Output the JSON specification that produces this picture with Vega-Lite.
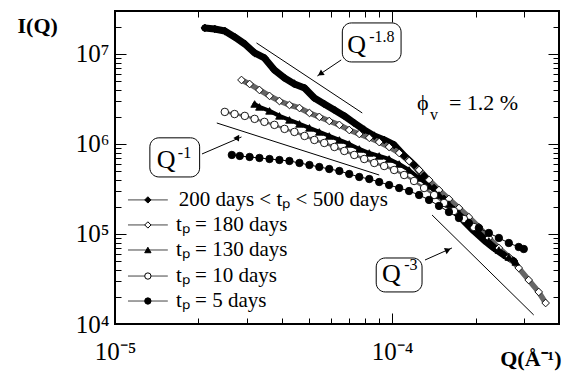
{
  "$schema": "https://vega.github.io/schema/vega-lite/v6.json",
  "width": 444,
  "height": 313,
  "autosize": {"type": "none"},
  "padding": {"left": 115, "top": 11, "right": 10, "bottom": 47},
  "background": "white",
  "config": {
    "view": {"stroke": "black", "strokeWidth": 2},
    "font": "Liberation Serif"
  },
  "datasets": {
    "series": [
      {"s": "A", "Q": 2.11e-5, "I": 1.945e7}, {"s": "A", "Q": 2.29e-5, "I": 1.895e7}, {"s": "A", "Q": 2.49e-5, "I": 1.80e7},
      {"s": "A", "Q": 2.70e-5, "I": 1.545e7}, {"s": "A", "Q": 2.94e-5, "I": 1.29e7}, {"s": "A", "Q": 3.19e-5, "I": 1.026e7},
      {"s": "A", "Q": 3.46e-5, "I": 9.03e6}, {"s": "A", "Q": 3.76e-5, "I": 6.64e6}, {"s": "A", "Q": 4.09e-5, "I": 5.41e6},
      {"s": "A", "Q": 4.44e-5, "I": 4.64e6}, {"s": "A", "Q": 4.83e-5, "I": 4.19e6}, {"s": "A", "Q": 5.24e-5, "I": 3.24e6},
      {"s": "A", "Q": 5.69e-5, "I": 2.78e6}, {"s": "A", "Q": 6.19e-5, "I": 2.39e6}, {"s": "A", "Q": 6.72e-5, "I": 2.05e6},
      {"s": "A", "Q": 7.30e-5, "I": 1.71e6}, {"s": "A", "Q": 7.93e-5, "I": 1.43e6}, {"s": "A", "Q": 8.62e-5, "I": 1.227e6},
      {"s": "A", "Q": 9.36e-5, "I": 1.108e6}, {"s": "A", "Q": 1.017e-4, "I": 9.74e5}, {"s": "A", "Q": 1.105e-4, "I": 7.36e5},
      {"s": "A", "Q": 1.200e-4, "I": 5.84e5}, {"s": "A", "Q": 1.304e-4, "I": 4.41e5}, {"s": "A", "Q": 1.417e-4, "I": 3.24e5},
      {"s": "A", "Q": 1.539e-4, "I": 2.45e5}, {"s": "A", "Q": 1.671e-4, "I": 1.85e5}, {"s": "A", "Q": 1.816e-4, "I": 1.394e5},
      {"s": "A", "Q": 1.972e-4, "I": 1.08e5}, {"s": "A", "Q": 2.143e-4, "I": 8.58e4}, {"s": "A", "Q": 2.328e-4, "I": 6.99e4},
      {"s": "A", "Q": 2.529e-4, "I": 5.84e4}, {"s": "A", "Q": 2.747e-4, "I": 5.01e4},
      {"s": "B", "Q": 2.86e-5, "I": 5.14e6}, {"s": "B", "Q": 3.06e-5, "I": 4.64e6}, {"s": "B", "Q": 3.32e-5, "I": 3.98e6},
      {"s": "B", "Q": 3.61e-5, "I": 3.42e6}, {"s": "B", "Q": 3.92e-5, "I": 3.00e6}, {"s": "B", "Q": 4.26e-5, "I": 2.71e6},
      {"s": "B", "Q": 4.63e-5, "I": 2.51e6}, {"s": "B", "Q": 5.03e-5, "I": 2.21e6}, {"s": "B", "Q": 5.46e-5, "I": 2.00e6},
      {"s": "B", "Q": 5.93e-5, "I": 1.80e6}, {"s": "B", "Q": 6.45e-5, "I": 1.63e6}, {"s": "B", "Q": 7.00e-5, "I": 1.43e6},
      {"s": "B", "Q": 7.61e-5, "I": 1.29e6}, {"s": "B", "Q": 8.27e-5, "I": 1.17e6}, {"s": "B", "Q": 8.98e-5, "I": 1.05e6},
      {"s": "B", "Q": 9.75e-5, "I": 9.26e5}, {"s": "B", "Q": 1.060e-4, "I": 7.94e5}, {"s": "B", "Q": 1.151e-4, "I": 6.47e5},
      {"s": "B", "Q": 1.251e-4, "I": 5.14e5}, {"s": "B", "Q": 1.359e-4, "I": 3.98e5}, {"s": "B", "Q": 1.476e-4, "I": 3.08e5},
      {"s": "B", "Q": 1.603e-4, "I": 2.45e5}, {"s": "B", "Q": 1.742e-4, "I": 1.945e5}, {"s": "B", "Q": 1.892e-4, "I": 1.54e5},
      {"s": "B", "Q": 2.055e-4, "I": 1.196e5}, {"s": "B", "Q": 2.233e-4, "I": 9.03e4}, {"s": "B", "Q": 2.427e-4, "I": 6.99e4},
      {"s": "B", "Q": 2.636e-4, "I": 5.55e4}, {"s": "B", "Q": 2.863e-4, "I": 4.19e4}, {"s": "B", "Q": 3.110e-4, "I": 3.08e4},
      {"s": "B", "Q": 3.380e-4, "I": 2.27e4}, {"s": "B", "Q": 3.58e-4, "I": 1.71e4},
      {"s": "C", "Q": 3.19e-5, "I": 2.78e6}, {"s": "C", "Q": 3.32e-5, "I": 2.58e6}, {"s": "C", "Q": 3.61e-5, "I": 2.33e6},
      {"s": "C", "Q": 3.92e-5, "I": 2.05e6}, {"s": "C", "Q": 4.26e-5, "I": 1.85e6}, {"s": "C", "Q": 4.63e-5, "I": 1.67e6},
      {"s": "C", "Q": 5.03e-5, "I": 1.51e6}, {"s": "C", "Q": 5.46e-5, "I": 1.36e6}, {"s": "C", "Q": 5.93e-5, "I": 1.227e6},
      {"s": "C", "Q": 6.45e-5, "I": 1.108e6}, {"s": "C", "Q": 7.00e-5, "I": 1.0e6}, {"s": "C", "Q": 7.61e-5, "I": 8.80e5},
      {"s": "C", "Q": 8.27e-5, "I": 7.94e5}, {"s": "C", "Q": 8.98e-5, "I": 7.36e5}, {"s": "C", "Q": 9.75e-5, "I": 6.81e5},
      {"s": "C", "Q": 1.060e-4, "I": 5.99e5}, {"s": "C", "Q": 1.151e-4, "I": 5.14e5}, {"s": "C", "Q": 1.251e-4, "I": 4.19e5},
      {"s": "C", "Q": 1.359e-4, "I": 3.42e5}, {"s": "C", "Q": 1.476e-4, "I": 2.71e5}, {"s": "C", "Q": 1.603e-4, "I": 2.15e5},
      {"s": "C", "Q": 1.742e-4, "I": 1.71e5}, {"s": "C", "Q": 1.892e-4, "I": 1.36e5}, {"s": "C", "Q": 2.055e-4, "I": 1.05e5},
      {"s": "C", "Q": 2.233e-4, "I": 8.36e4}, {"s": "C", "Q": 2.427e-4, "I": 6.64e4}, {"s": "C", "Q": 2.636e-4, "I": 5.55e4},
      {"s": "C", "Q": 2.793e-4, "I": 4.89e4},
      {"s": "D", "Q": 2.49e-5, "I": 2.27e6}, {"s": "D", "Q": 2.70e-5, "I": 2.15e6}, {"s": "D", "Q": 2.94e-5, "I": 2.05e6},
      {"s": "D", "Q": 3.19e-5, "I": 1.90e6}, {"s": "D", "Q": 3.46e-5, "I": 1.76e6}, {"s": "D", "Q": 3.76e-5, "I": 1.63e6},
      {"s": "D", "Q": 4.09e-5, "I": 1.47e6}, {"s": "D", "Q": 4.44e-5, "I": 1.36e6}, {"s": "D", "Q": 4.83e-5, "I": 1.227e6},
      {"s": "D", "Q": 5.24e-5, "I": 1.108e6}, {"s": "D", "Q": 5.69e-5, "I": 1.026e6}, {"s": "D", "Q": 6.19e-5, "I": 9.26e5},
      {"s": "D", "Q": 6.72e-5, "I": 8.36e5}, {"s": "D", "Q": 7.30e-5, "I": 7.55e5}, {"s": "D", "Q": 7.93e-5, "I": 6.81e5},
      {"s": "D", "Q": 8.62e-5, "I": 6.15e5}, {"s": "D", "Q": 9.36e-5, "I": 5.69e5}, {"s": "D", "Q": 1.017e-4, "I": 5.14e5},
      {"s": "D", "Q": 1.105e-4, "I": 4.52e5}, {"s": "D", "Q": 1.200e-4, "I": 3.88e5}, {"s": "D", "Q": 1.304e-4, "I": 3.24e5},
      {"s": "D", "Q": 1.417e-4, "I": 2.71e5}, {"s": "D", "Q": 1.539e-4, "I": 2.21e5}, {"s": "D", "Q": 1.671e-4, "I": 1.80e5},
      {"s": "D", "Q": 1.816e-4, "I": 1.468e5}, {"s": "D", "Q": 1.972e-4, "I": 1.196e5},
      {"s": "E", "Q": 2.64e-5, "I": 7.55e5}, {"s": "E", "Q": 2.82e-5, "I": 7.36e5}, {"s": "E", "Q": 3.06e-5, "I": 7.17e5},
      {"s": "E", "Q": 3.32e-5, "I": 6.99e5}, {"s": "E", "Q": 3.61e-5, "I": 6.81e5}, {"s": "E", "Q": 3.92e-5, "I": 6.64e5},
      {"s": "E", "Q": 4.26e-5, "I": 6.47e5}, {"s": "E", "Q": 4.63e-5, "I": 6.15e5}, {"s": "E", "Q": 5.03e-5, "I": 5.84e5},
      {"s": "E", "Q": 5.46e-5, "I": 5.55e5}, {"s": "E", "Q": 5.93e-5, "I": 5.27e5}, {"s": "E", "Q": 6.45e-5, "I": 5.01e5},
      {"s": "E", "Q": 7.00e-5, "I": 4.64e5}, {"s": "E", "Q": 7.61e-5, "I": 4.30e5}, {"s": "E", "Q": 8.27e-5, "I": 4.08e5},
      {"s": "E", "Q": 8.98e-5, "I": 3.78e5}, {"s": "E", "Q": 9.75e-5, "I": 3.50e5}, {"s": "E", "Q": 1.060e-4, "I": 3.24e5},
      {"s": "E", "Q": 1.151e-4, "I": 3.00e5}, {"s": "E", "Q": 1.251e-4, "I": 2.71e5}, {"s": "E", "Q": 1.359e-4, "I": 2.39e5},
      {"s": "E", "Q": 1.476e-4, "I": 2.05e5}, {"s": "E", "Q": 1.603e-4, "I": 1.755e5}, {"s": "E", "Q": 1.742e-4, "I": 1.505e5},
      {"s": "E", "Q": 1.892e-4, "I": 1.32e5}, {"s": "E", "Q": 2.055e-4, "I": 1.166e5}, {"s": "E", "Q": 2.233e-4, "I": 1.026e5},
      {"s": "E", "Q": 2.427e-4, "I": 9.03e4}, {"s": "E", "Q": 2.636e-4, "I": 7.94e4}, {"s": "E", "Q": 2.863e-4, "I": 7.17e4},
      {"s": "E", "Q": 2.985e-4, "I": 6.81e4}
    ],
    "legend": [
      {"s": "A", "Qa": 1.114e-5, "Qb": 1.551e-5, "Qm": 1.314e-5, "Qt": 1.70e-5, "I": 2.39e5, "label": "200 days < tₚ < 500 days"},
      {"s": "B", "Qa": 1.114e-5, "Qb": 1.551e-5, "Qm": 1.314e-5, "Qt": 1.66e-5, "I": 1.26e5, "label": "tₚ = 180 days"},
      {"s": "C", "Qa": 1.114e-5, "Qb": 1.551e-5, "Qm": 1.314e-5, "Qt": 1.66e-5, "I": 6.64e4, "label": "tₚ = 130 days"},
      {"s": "D", "Qa": 1.114e-5, "Qb": 1.551e-5, "Qm": 1.314e-5, "Qt": 1.66e-5, "I": 3.41e4, "label": "tₚ = 10 days"},
      {"s": "E", "Qa": 1.114e-5, "Qb": 1.551e-5, "Qm": 1.314e-5, "Qt": 1.66e-5, "I": 1.80e4, "label": "tₚ = 5 days"}
    ],
    "refs": [
      {"r": "a", "Q": 3.24e-5, "I": 1.325e7}, {"r": "a", "Q": 7.80e-5, "I": 2.21e6},
      {"r": "b", "Q": 2.33e-5, "I": 1.71e6}, {"r": "b", "Q": 8.98e-5, "I": 4.52e5},
      {"r": "c", "Q": 1.393e-4, "I": 1.626e5}, {"r": "c", "Q": 3.242e-4, "I": 1.26e4}
    ],
    "arrows": [
      {"r": "a", "Q": 6.55e-5, "I": 8.58e6}, {"r": "a", "Q": 5.37e-5, "I": 5.69e6},
      {"r": "b", "Q": 2.06e-5, "I": 7.74e5}, {"r": "b", "Q": 2.86e-5, "I": 1.196e6},
      {"r": "c", "Q": 1.314e-4, "I": 5.14e4}, {"r": "c", "Q": 1.644e-4, "I": 6.99e4}
    ],
    "heads": [
      {"r": "a", "Q": 5.51e-5, "I": 6.0e6},
      {"r": "b", "Q": 2.77e-5, "I": 1.137e6},
      {"r": "c", "Q": 1.590e-4, "I": 6.64e4}
    ],
    "boxes": [
      {"Q": 6.61e-5, "Q2": 1.077e-4, "I": 2.21e7, "I2": 8.15e6},
      {"Q": 1.336e-5, "Q2": 2.02e-5, "I": 1.17e6, "I2": 4.30e5},
      {"Q": 8.76e-5, "Q2": 1.282e-4, "I": 5.41e4, "I2": 2.27e4}
    ],
    "bigtext": [
      {"t": "Q", "Q": 6.89e-5, "I": 1.026e7},
      {"t": "Q", "Q": 1.416e-5, "I": 5.41e5},
      {"t": "Q", "Q": 9.20e-5, "I": 2.93e4}
    ],
    "suptext": [
      {"t": "-1.8", "Q": 8.27e-5, "I": 1.36e7},
      {"t": "-1", "Q": 1.685e-5, "I": 6.99e5},
      {"t": "-3", "Q": 1.105e-4, "I": 3.98e4},
      {"t": "v", "Q": 1.370e-4, "I": 1.85e6}
    ],
    "phitext": [
      {"t": "ϕ", "Q": 1.230e-4, "I": 2.39e6},
      {"t": "= 1.2 %", "Q": 1.603e-4, "I": 2.39e6}
    ]
  },
  "layer": [
    {
      "data": {"name": "refs"},
      "mark": {"type": "line", "stroke": "black", "strokeWidth": 1},
      "encoding": {
        "x": {"field": "Q", "type": "quantitative",
              "scale": {"type": "log", "domain": [1e-5, 4e-4], "nice": false},
              "axis": {"orient": "top", "values": [1e-5, 2e-5, 3e-5, 4e-5, 5e-5, 6e-5, 7e-5, 8e-5, 9e-5, 1e-4, 2e-4, 3e-4],
                       "labels": false, "domain": false, "grid": false, "title": null, "tickColor": "black", "tickWidth": 1,
                       "tickSize": {"condition": {"test": "datum.value == 0.00001 || datum.value == 0.0001", "value": -11}, "value": -6}}},
        "y": {"field": "I", "type": "quantitative",
              "scale": {"type": "log", "domain": [1e4, 3e7], "nice": false},
              "axis": {"orient": "right", "values": [10000, 20000, 30000, 40000, 50000, 60000, 70000, 80000, 90000, 100000, 200000, 300000, 400000, 500000, 600000, 700000, 800000, 900000, 1000000, 2000000, 3000000, 4000000, 5000000, 6000000, 7000000, 8000000, 9000000, 10000000, 20000000],
                       "labels": false, "domain": false, "grid": false, "title": null, "tickColor": "black", "tickWidth": 1,
                       "tickSize": {"condition": {"test": "datum.value == 10000 || datum.value == 100000 || datum.value == 1000000 || datum.value == 10000000", "value": -11}, "value": -6}}},
        "detail": {"field": "r"}
      }
    },
    {
      "layer": [
        {
          "data": {"name": "series"},
          "mark": {"type": "line", "strokeCap": "round", "strokeJoin": "round"},
          "encoding": {
            "x": {"field": "Q", "type": "quantitative",
                  "axis": {"orient": "bottom", "values": [1e-5, 2e-5, 3e-5, 4e-5, 5e-5, 6e-5, 7e-5, 8e-5, 9e-5, 1e-4, 2e-4, 3e-4],
                           "labelExpr": "datum.value == 0.00001 ? '10⁻⁵' : datum.value == 0.0001 ? '10⁻⁴' : ''",
                           "labelFont": "Liberation Serif", "labelFontSize": 25, "labelColor": "black", "labelPadding": 26,
                           "labelFlush": false, "labelOverlap": false,
                           "domain": false, "grid": false, "tickColor": "black", "tickWidth": 1,
                           "tickSize": {"condition": {"test": "datum.value == 0.00001 || datum.value == 0.0001", "value": -11}, "value": -6},
                           "title": "Q(Å⁻¹)", "titleFont": "Liberation Serif", "titleFontSize": 22, "titleFontWeight": "bold", "titleColor": "black",
                           "titleAnchor": null, "titleAlign": "right", "titleBaseline": "alphabetic", "titleX": 446, "titleY": 41}},
            "y": {"field": "I", "type": "quantitative",
                  "axis": {"orient": "left", "values": [10000, 20000, 30000, 40000, 50000, 60000, 70000, 80000, 90000, 100000, 200000, 300000, 400000, 500000, 600000, 700000, 800000, 900000, 1000000, 2000000, 3000000, 4000000, 5000000, 6000000, 7000000, 8000000, 9000000, 10000000, 20000000],
                           "labelExpr": "datum.value == 10000 ? '10⁴' : datum.value == 100000 ? '10⁵' : datum.value == 1000000 ? '10⁶' : datum.value == 10000000 ? '10⁷' : ''",
                           "labelFont": "Liberation Serif", "labelFontSize": 25, "labelColor": "black", "labelPadding": 17,
                           "labelFlush": false, "labelOverlap": false, "labelBaseline": "middle",
                           "domain": false, "grid": false, "tickColor": "black", "tickWidth": 1,
                           "tickSize": {"condition": {"test": "datum.value == 10000 || datum.value == 100000 || datum.value == 1000000 || datum.value == 10000000", "value": -11}, "value": -6},
                           "title": "I(Q)", "titleFont": "Liberation Serif", "titleFontSize": 22, "titleFontWeight": "bold", "titleColor": "black",
                           "titleAngle": 0, "titleAnchor": null, "titleAlign": "left", "titleBaseline": "alphabetic", "titleX": -98, "titleY": 21}},
            "detail": {"field": "s"},
            "stroke": {"field": "s", "type": "nominal", "scale": {"domain": ["A", "B", "C", "D", "E"], "range": ["black", "#666666", "black", "#666666", "black"]}, "legend": null},
            "strokeWidth": {"field": "s", "type": "nominal", "scale": {"domain": ["A", "B", "C", "D", "E"], "range": [7, 1, 4, 1, 10]}, "legend": null}
          }
        },
        {
          "data": {"name": "series"},
          "mark": {"type": "point", "filled": true, "opacity": 1, "stroke": "black", "strokeWidth": 0.9},
          "encoding": {
            "x": {"field": "Q", "type": "quantitative"},
            "y": {"field": "I", "type": "quantitative"},
            "shape": {"field": "s", "type": "nominal",
                      "scale": {"domain": ["A", "B", "C", "D", "E"], "range": ["diamond", "diamond", "triangle-up", "circle", "circle"]},
                      "legend": null},
            "fill": {"field": "s", "type": "nominal",
                     "scale": {"domain": ["A", "B", "C", "D", "E"], "range": ["black", "white", "black", "white", "black"]},
                     "legend": null},
            "size": {"field": "s", "type": "nominal",
                     "scale": {"domain": ["A", "B", "C", "D", "E"], "range": [60, 55, 75, 55, 105]},
                     "legend": null}
          }
        },
        {
          "data": {"name": "legend"},
          "mark": {"type": "rule", "stroke": "#444444", "strokeWidth": 1},
          "encoding": {
            "x": {"field": "Qa", "type": "quantitative"},
            "x2": {"field": "Qb"},
            "y": {"field": "I", "type": "quantitative"}
          }
        },
        {
          "data": {"name": "legend"},
          "mark": {"type": "point", "filled": true, "opacity": 1, "stroke": "black", "strokeWidth": 1, "size": 40},
          "encoding": {
            "x": {"field": "Qm", "type": "quantitative"},
            "y": {"field": "I", "type": "quantitative"},
            "shape": {"field": "s", "type": "nominal", "legend": null},
            "fill": {"field": "s", "type": "nominal", "legend": null}
          }
        },
        {
          "data": {"name": "legend"},
          "mark": {"type": "text", "font": "Liberation Serif", "fontSize": 21, "align": "left", "baseline": "middle", "color": "black"},
          "encoding": {
            "x": {"field": "Qt", "type": "quantitative"},
            "y": {"field": "I", "type": "quantitative"},
            "text": {"field": "label"}
          }
        },
        {
          "data": {"name": "boxes"},
          "mark": {"type": "rect", "fill": "white", "stroke": "black", "strokeWidth": 1, "cornerRadius": 9},
          "encoding": {
            "x": {"field": "Q", "type": "quantitative"},
            "x2": {"field": "Q2"},
            "y": {"field": "I", "type": "quantitative"},
            "y2": {"field": "I2"}
          }
        },
        {
          "data": {"name": "arrows"},
          "mark": {"type": "line", "stroke": "black", "strokeWidth": 1},
          "encoding": {
            "x": {"field": "Q", "type": "quantitative"},
            "y": {"field": "I", "type": "quantitative"},
            "detail": {"field": "r"}
          }
        },
        {
          "data": {"name": "heads"},
          "mark": {"type": "point", "shape": "triangle-up", "filled": true, "fill": "black", "opacity": 1, "size": 45, "strokeWidth": 0},
          "encoding": {
            "x": {"field": "Q", "type": "quantitative"},
            "y": {"field": "I", "type": "quantitative"},
            "angle": {"field": "r", "type": "nominal", "scale": {"domain": ["a", "b", "c"], "range": [236, 67, 66]}, "legend": null}
          }
        },
        {
          "data": {"name": "bigtext"},
          "mark": {"type": "text", "font": "Liberation Serif", "fontSize": 26, "align": "left", "baseline": "alphabetic", "color": "black"},
          "encoding": {
            "x": {"field": "Q", "type": "quantitative"},
            "y": {"field": "I", "type": "quantitative"},
            "text": {"field": "t"}
          }
        },
        {
          "data": {"name": "suptext"},
          "mark": {"type": "text", "font": "Liberation Serif", "fontSize": 16, "align": "left", "baseline": "alphabetic", "color": "black"},
          "encoding": {
            "x": {"field": "Q", "type": "quantitative"},
            "y": {"field": "I", "type": "quantitative"},
            "text": {"field": "t"}
          }
        },
        {
          "data": {"name": "phitext"},
          "mark": {"type": "text", "font": "Liberation Serif", "fontSize": 22, "align": "left", "baseline": "alphabetic", "color": "black"},
          "encoding": {
            "x": {"field": "Q", "type": "quantitative"},
            "y": {"field": "I", "type": "quantitative"},
            "text": {"field": "t"}
          }
        }
      ]
    }
  ],
  "resolve": {"axis": {"x": "independent", "y": "independent"}}
}
